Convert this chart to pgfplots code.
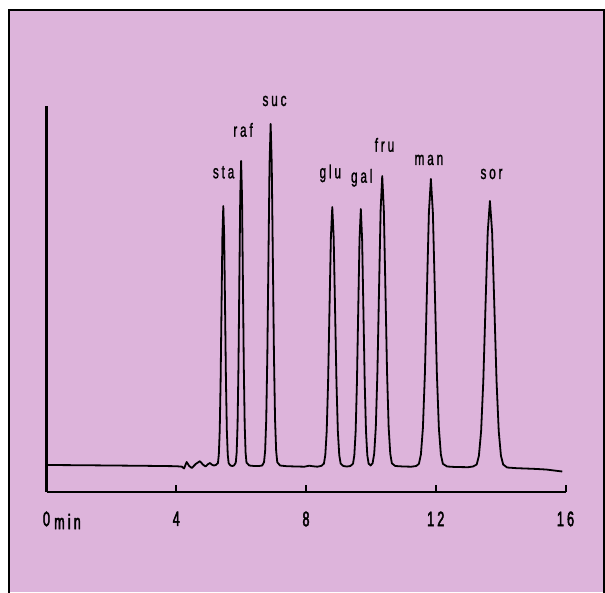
\documentclass[border=0pt]{standalone}
\usepackage{fontspec}
\setmainfont{Liberation Sans}[FakeStretch=0.62,LetterSpace=15,FakeBold=1.2]
\newfontfamily\tickfont{Liberation Sans}[FakeStretch=0.6,LetterSpace=15,FakeBold=2.2]
\usepackage{pgfplots}
\pgfplotsset{compat=1.18}
\definecolor{pinkbg}{RGB}{221,180,219}
\begin{document}
\begin{tikzpicture}[x=1pt,y=1pt]
\path[use as bounding box] (0,0) rectangle (605,592);
\fill[white] (0,0) rectangle (605,592);
\fill[pinkbg] (9,0) rectangle (604,582);
\draw[line width=1.4pt] (9,-1) -- (9,582) -- (604,582) -- (604,-1);
\begin{axis}[
  at={(46.5pt,100pt)}, anchor=south west,
  width=519pt, height=386pt, scale only axis,
  xmin=0, xmax=16, ymin=0, ymax=386,
  axis lines*=left,
  axis line style={line width=2.2pt},
  xtick={0,4,8,12,16},
  xticklabels={0\rlap{\hspace{0.2em}\raisebox{-3pt}{min}},4,8,12,16},
  ytick=\empty,
  tick align=inside,
  major tick length=7pt,
  every tick/.style={black, line width=2pt},
  tick label style={font=\tickfont\fontsize{21}{21}\selectfont},
  xticklabel style={yshift=-16pt},
  /pgf/number format/assume math mode=true,
  clip=false,
]
\addplot[black, line width=1.8pt, line join=round, mark=none] coordinates {
(0,27) (1,26.8) (2,26.5) (3,26.2) (4,25.8) (4.18,25.3) (4.24,23.5) (4.32,30) (4.4,26) (4.48,24) (4.6,28) (4.73,30.8) (4.82,27.5) (4.9,25.5) (4.98,27.8) (5.04,29) (5.1,27.3) (5.16,26.5) (5.22,27)
(5.285,28.9) (5.3125,37.4) (5.34,61.2) (5.3675,110.4) (5.395,183.7) (5.4225,255.5) (5.45,286) (5.4775,255.5) (5.505,183.7) (5.5325,110.4) (5.56,61.2) (5.5875,37.4) (5.615,28.9)
(5.67,26.5) (5.725,26) (5.78,26.5)
(5.835,29.4) (5.8625,39.4) (5.89,67.3) (5.9175,125.0) (5.945,211.0) (5.9725,295.2) (6.0,331) (6.0275,295.2) (6.055,211.0) (6.0825,125.0) (6.11,67.3) (6.1375,39.4) (6.165,29.4)
(6.25,26.5) (6.4,26) (6.55,26) (6.65,26.5)
(6.706,29.8) (6.74,41.0) (6.774,72.3) (6.808,137.0) (6.842,233.4) (6.876,327.8) (6.91,368) (6.944,327.8) (6.978,233.4) (7.012,137.0) (7.046,72.3) (7.08,41.0) (7.114,29.8)
(7.2,26.5) (7.4,25.8) (7.7,25.5) (7.95,25.3) (8.1,26.3) (8.2,25.8) (8.35,25.3) (8.48,26.2)
(8.552,28.4) (8.595,36.9) (8.638,60.6) (8.681,109.8) (8.724,182.9) (8.767,254.5) (8.81,285) (8.853,254.5) (8.896,182.9) (8.939,109.8) (8.982,60.6) (9.025,36.9) (9.068,28.4)
(9.15,26) (9.26,25.5) (9.37,26)
(9.45,28.4) (9.49,36.8) (9.53,60.3) (9.57,109.1) (9.61,181.7) (9.65,252.7) (9.69,283) (9.73,252.7) (9.77,181.7) (9.81,109.1) (9.85,60.3) (9.89,36.8) (9.93,28.4)
(9.99,26.5)
(10.053,28.7) (10.1025,38.3) (10.152,64.8) (10.2015,119.8) (10.251,201.7) (10.3005,281.9) (10.35,316) (10.3995,281.9) (10.449,201.7) (10.4985,119.8) (10.548,64.8) (10.5975,38.3) (10.647,28.7)
(10.75,26) (11.0,25.5) (11.25,25.3) (11.4,26)
(11.481,28.2) (11.5425,37.6) (11.604,64.0) (11.6655,118.5) (11.727,199.7) (11.7885,279.2) (11.85,313) (11.9115,279.2) (11.973,199.7) (12.0345,118.5) (12.096,64.0) (12.1575,37.6) (12.219,28.2)
(12.35,25.5) (12.6,25) (13.0,24.8) (13.15,25.5)
(13.262,27.5) (13.33,36.2) (13.398,60.6) (13.466,111.0) (13.534,186.1) (13.602,259.7) (13.67,291) (13.738,259.7) (13.806,186.1) (13.874,111.0) (13.942,60.6) (14.01,36.2) (14.078,27.5)
(14.2,24.5) (14.5,23.8) (15.0,23.2) (15.4,22.5) (15.7,21.3) (15.9,20.5)
};
\begin{scope}[every node/.style={anchor=base, inner sep=0pt, font=\fontsize{19}{19}\selectfont}]
\node at (axis cs:5.46,313.7) {sta};
\node at (axis cs:6.06,355.3) {raf};
\node at (axis cs:7.03,386) {suc};
\node at (axis cs:8.75,313.7) {glu};
\node at (axis cs:9.72,309.3) {gal};
\node at (axis cs:10.42,340.3) {fru};
\node at (axis cs:11.79,327) {man};
\node at (axis cs:13.72,313) {sor};
\end{scope}
\end{axis}
\end{tikzpicture}
\end{document}
